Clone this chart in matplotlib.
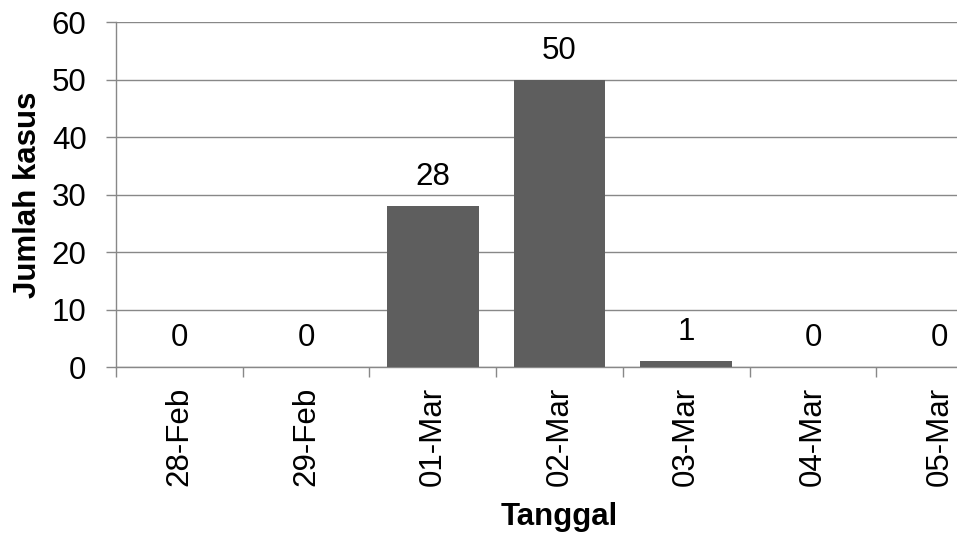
import numpy as np
import matplotlib.pyplot as plt
from matplotlib.ticker import FixedLocator

plt.rcParams['font.family'] = ['Liberation Sans', 'DejaVu Sans']

tanggal = ['28-Feb', '29-Feb', '01-Mar', '02-Mar', '03-Mar', '04-Mar', '05-Mar']
kasus = [0, 0, 28, 50, 1, 0, 0]

bar_color = '#5e5e5e'
grid_color = '#888888'
fs = 22.5

fig = plt.figure(figsize=(9.57, 5.39), dpi=100)
ax = fig.add_axes([0.1212, 0.3191, 0.9269, 0.640])

x = np.arange(len(tanggal))
ax.bar(x, kasus, width=0.725, color=bar_color, zorder=3)

# value labels sit a fixed distance above each bar
for xi, v in zip(x, kasus):
    ax.annotate(str(v), (xi, v), xytext=(0, 15), textcoords='offset points',
                ha='center', va='baseline', fontsize=fs, color='black')

ax.set_xlim(-0.5, len(tanggal) - 0.5)
ax.set_ylim(0, 60)
ax.set_yticks(range(0, 61, 10))
ax.yaxis.grid(True, color=grid_color, linewidth=1.0, zorder=0)

# tick marks between categories, labels at the centres
ax.xaxis.set_major_locator(FixedLocator(np.arange(-0.5, len(tanggal), 1.0)))
ax.xaxis.set_minor_locator(FixedLocator(x))
ax.set_xticklabels([])
ax.set_xticklabels(tanggal, minor=True, rotation=90, fontsize=fs)
ax.tick_params(axis='x', which='major', length=7.2, width=1.0, color=grid_color,
               direction='out')
ax.tick_params(axis='x', which='minor', length=0, pad=14)
ax.tick_params(axis='y', length=7.2, width=1.0, color=grid_color, labelsize=fs, pad=14)

for side in ['top', 'right']:
    ax.spines[side].set_visible(False)
for side in ['left', 'bottom']:
    ax.spines[side].set_color(grid_color)
    ax.spines[side].set_linewidth(1.0)

ax.set_ylabel('Jumlah kasus', fontsize=fs, fontweight='bold', labelpad=6)
ax.set_xlabel('Tanggal', fontsize=fs, fontweight='bold', labelpad=12)

fig.savefig('out.png', dpi=100)
